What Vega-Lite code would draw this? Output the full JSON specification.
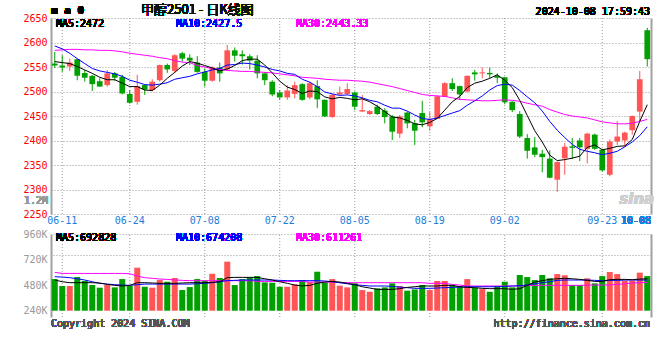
{
"$schema": "https://vega.github.io/schema/vega-lite/v6.json",
"autosize": {"type": "pad"},
"padding": {"left": 22, "top": 3, "right": 5, "bottom": 5},
"bounds": "flush",
"spacing": 20,
"background": "#ffffff",
"config": {
  "view": {"stroke": null},
  "axis": {"domainColor": "#a0a0a0", "domainWidth": 2, "gridColor": "#999999", "gridDash": [1, 2], "gridWidth": 1, "labelFont": "DejaVu Sans Mono", "labelFontSize": 10, "ticks": false},
  "text": {"font": "DejaVu Sans Mono", "fontSize": 10, "baseline": "middle"}
},
"data": {"values": [
{"d":"06-07","o":2557,"h":2581,"l":2548,"c":2553,"v":537000,"m5":2561,"m10":2593,"m30":2584,"a5":528000,"a10":559000,"a30":600000},
{"d":"06-11","o":2553,"h":2574,"l":2540,"c":2549,"v":472000,"m5":2559,"m10":2587,"m30":2585,"a5":512000,"a10":556000,"a30":590000},
{"d":"06-12","o":2551,"h":2567,"l":2542,"c":2559,"v":472000,"m5":2557,"m10":2578,"m30":2586,"a5":503000,"a10":550000,"a30":590000},
{"d":"06-13","o":2566,"h":2567,"l":2523,"c":2532,"v":556000,"m5":2551,"m10":2567,"m30":2586,"a5":503000,"a10":540000,"a30":590000},
{"d":"06-14","o":2538,"h":2544,"l":2520,"c":2528,"v":519000,"m5":2544,"m10":2557,"m30":2585,"a5":503000,"a10":528000,"a30":590000},
{"d":"06-17","o":2532,"h":2534,"l":2501,"c":2515,"v":481000,"m5":2537,"m10":2547,"m30":2585,"a5":503000,"a10":512000,"a30":590000},
{"d":"06-18","o":2521,"h":2527,"l":2510,"c":2510,"v":456000,"m5":2529,"m10":2542,"m30":2584,"a5":500000,"a10":497000,"a30":590000},
{"d":"06-19","o":2513,"h":2544,"l":2510,"c":2537,"v":481000,"m5":2524,"m10":2539,"m30":2584,"a5":487000,"a10":490000,"a30":590000},
{"d":"06-20","o":2537,"h":2540,"l":2522,"c":2528,"v":459000,"m5":2524,"m10":2536,"m30":2583,"a5":478000,"a10":484000,"a30":590000},
{"d":"06-21","o":2530,"h":2534,"l":2494,"c":2496,"v":537000,"m5":2517,"m10":2531,"m30":2581,"a5":472000,"a10":481000,"a30":590000},
{"d":"06-24","o":2495,"h":2503,"l":2475,"c":2477,"v":472000,"m5":2510,"m10":2523,"m30":2578,"a5":478000,"a10":478000,"a30":587000},
{"d":"06-25","o":2479,"h":2534,"l":2473,"c":2511,"v":644000,"m5":2510,"m10":2519,"m30":2576,"a5":503000,"a10":484000,"a30":565000},
{"d":"06-26","o":2513,"h":2515,"l":2493,"c":2504,"v":465000,"m5":2503,"m10":2514,"m30":2574,"a5":503000,"a10":490000,"a30":550000},
{"d":"06-27","o":2503,"h":2525,"l":2500,"c":2520,"v":456000,"m5":2502,"m10":2513,"m30":2572,"a5":500000,"a10":490000,"a30":544000},
{"d":"06-28","o":2523,"h":2555,"l":2520,"c":2554,"v":528000,"m5":2513,"m10":2515,"m30":2569,"a5":497000,"a10":490000,"a30":537000},
{"d":"07-01","o":2554,"h":2557,"l":2538,"c":2545,"v":512000,"m5":2527,"m10":2518,"m30":2567,"a5":497000,"a10":490000,"a30":534000},
{"d":"07-02","o":2542,"h":2576,"l":2538,"c":2574,"v":547000,"m5":2539,"m10":2525,"m30":2563,"a5":497000,"a10":490000,"a30":528000},
{"d":"07-03","o":2578,"h":2581,"l":2561,"c":2567,"v":434000,"m5":2552,"m10":2528,"m30":2560,"a5":500000,"a10":490000,"a30":525000},
{"d":"07-04","o":2569,"h":2576,"l":2554,"c":2563,"v":462000,"m5":2561,"m10":2531,"m30":2559,"a5":503000,"a10":490000,"a30":522000},
{"d":"07-05","o":2559,"h":2572,"l":2538,"c":2540,"v":537000,"m5":2558,"m10":2536,"m30":2553,"a5":503000,"a10":493000,"a30":522000},
{"d":"07-08","o":2540,"h":2547,"l":2510,"c":2522,"v":522000,"m5":2553,"m10":2540,"m30":2550,"a5":503000,"a10":497000,"a30":522000},
{"d":"07-09","o":2522,"h":2551,"l":2520,"c":2549,"v":587000,"m5":2548,"m10":2544,"m30":2547,"a5":506000,"a10":503000,"a30":522000},
{"d":"07-10","o":2549,"h":2559,"l":2520,"c":2537,"v":547000,"m5":2542,"m10":2547,"m30":2545,"a5":512000,"a10":512000,"a30":522000},
{"d":"07-11","o":2545,"h":2595,"l":2544,"c":2584,"v":700000,"m5":2546,"m10":2554,"m30":2543,"a5":550000,"a10":522000,"a30":522000},
{"d":"07-12","o":2584,"h":2590,"l":2561,"c":2573,"v":481000,"m5":2553,"m10":2555,"m30":2542,"a5":553000,"a10":525000,"a30":522000},
{"d":"07-15","o":2576,"h":2584,"l":2555,"c":2572,"v":537000,"m5":2563,"m10":2558,"m30":2541,"a5":553000,"a10":528000,"a30":522000},
{"d":"07-16","o":2572,"h":2576,"l":2545,"c":2563,"v":553000,"m5":2566,"m10":2557,"m30":2541,"a5":553000,"a10":528000,"a30":522000},
{"d":"07-17","o":2563,"h":2574,"l":2527,"c":2537,"v":565000,"m5":2566,"m10":2554,"m30":2540,"a5":553000,"a10":528000,"a30":515000},
{"d":"07-18","o":2537,"h":2540,"l":2513,"c":2523,"v":506000,"m5":2554,"m10":2550,"m30":2539,"a5":540000,"a10":528000,"a30":515000},
{"d":"07-19","o":2520,"h":2523,"l":2490,"c":2494,"v":503000,"m5":2538,"m10":2545,"m30":2538,"a5":528000,"a10":528000,"a30":515000},
{"d":"07-22","o":2498,"h":2503,"l":2483,"c":2488,"v":465000,"m5":2521,"m10":2542,"m30":2536,"a5":512000,"a10":525000,"a30":515000},
{"d":"07-23","o":2488,"h":2513,"l":2483,"c":2502,"v":465000,"m5":2509,"m10":2537,"m30":2534,"a5":497000,"a10":522000,"a30":515000},
{"d":"07-24","o":2495,"h":2520,"l":2486,"c":2513,"v":487000,"m5":2504,"m10":2535,"m30":2532,"a5":481000,"a10":522000,"a30":515000},
{"d":"07-25","o":2515,"h":2517,"l":2481,"c":2483,"v":528000,"m5":2496,"m10":2525,"m30":2529,"a5":472000,"a10":522000,"a30":515000},
{"d":"07-26","o":2488,"h":2520,"l":2484,"c":2517,"v":509000,"m5":2501,"m10":2519,"m30":2528,"a5":478000,"a10":522000,"a30":509000},
{"d":"07-29","o":2511,"h":2523,"l":2466,"c":2484,"v":606000,"m5":2500,"m10":2510,"m30":2527,"a5":497000,"a10":522000,"a30":509000},
{"d":"07-30","o":2483,"h":2484,"l":2448,"c":2449,"v":503000,"m5":2489,"m10":2499,"m30":2525,"a5":509000,"a10":519000,"a30":509000},
{"d":"07-31","o":2448,"h":2496,"l":2446,"c":2493,"v":537000,"m5":2485,"m10":2495,"m30":2524,"a5":515000,"a10":512000,"a30":509000},
{"d":"08-01","o":2494,"h":2510,"l":2493,"c":2498,"v":475000,"m5":2488,"m10":2492,"m30":2523,"a5":509000,"a10":503000,"a30":503000},
{"d":"08-02","o":2495,"h":2517,"l":2493,"c":2505,"v":459000,"m5":2486,"m10":2493,"m30":2523,"a5":497000,"a10":493000,"a30":503000},
{"d":"08-05","o":2498,"h":2500,"l":2462,"c":2469,"v":497000,"m5":2483,"m10":2491,"m30":2522,"a5":484000,"a10":484000,"a30":503000},
{"d":"08-06","o":2459,"h":2493,"l":2459,"c":2462,"v":434000,"m5":2485,"m10":2487,"m30":2521,"a5":465000,"a10":478000,"a30":503000},
{"d":"08-07","o":2454,"h":2462,"l":2452,"c":2460,"v":418000,"m5":2479,"m10":2482,"m30":2519,"a5":453000,"a10":472000,"a30":503000},
{"d":"08-08","o":2469,"h":2473,"l":2452,"c":2454,"v":450000,"m5":2470,"m10":2479,"m30":2516,"a5":440000,"a10":472000,"a30":503000},
{"d":"08-09","o":2461,"h":2466,"l":2435,"c":2448,"v":459000,"m5":2459,"m10":2472,"m30":2513,"a5":440000,"a10":472000,"a30":503000},
{"d":"08-12","o":2449,"h":2452,"l":2401,"c":2418,"v":497000,"m5":2448,"m10":2466,"m30":2510,"a5":440000,"a10":468000,"a30":503000},
{"d":"08-13","o":2414,"h":2452,"l":2405,"c":2449,"v":472000,"m5":2446,"m10":2466,"m30":2506,"a5":447000,"a10":462000,"a30":503000},
{"d":"08-14","o":2457,"h":2459,"l":2425,"c":2435,"v":428000,"m5":2441,"m10":2460,"m30":2502,"a5":459000,"a10":456000,"a30":503000},
{"d":"08-15","o":2435,"h":2442,"l":2391,"c":2420,"v":440000,"m5":2434,"m10":2452,"m30":2498,"a5":465000,"a10":450000,"a30":503000},
{"d":"08-16","o":2456,"h":2481,"l":2427,"c":2437,"v":481000,"m5":2432,"m10":2445,"m30":2494,"a5":472000,"a10":450000,"a30":503000},
{"d":"08-19","o":2429,"h":2458,"l":2420,"c":2444,"v":434000,"m5":2437,"m10":2443,"m30":2492,"a5":472000,"a10":450000,"a30":497000},
{"d":"08-20","o":2444,"h":2492,"l":2444,"c":2490,"v":519000,"m5":2445,"m10":2446,"m30":2491,"a5":472000,"a10":453000,"a30":497000},
{"d":"08-21","o":2489,"h":2519,"l":2489,"c":2517,"v":519000,"m5":2462,"m10":2451,"m30":2490,"a5":478000,"a10":456000,"a30":497000},
{"d":"08-22","o":2517,"h":2527,"l":2501,"c":2505,"v":481000,"m5":2479,"m10":2456,"m30":2487,"a5":478000,"a10":459000,"a30":487000},
{"d":"08-23","o":2511,"h":2512,"l":2483,"c":2494,"v":472000,"m5":2490,"m10":2461,"m30":2484,"a5":465000,"a10":462000,"a30":481000},
{"d":"08-26","o":2500,"h":2533,"l":2498,"c":2532,"v":537000,"m5":2508,"m10":2472,"m30":2483,"a5":459000,"a10":465000,"a30":472000},
{"d":"08-27","o":2539,"h":2544,"l":2522,"c":2535,"v":456000,"m5":2517,"m10":2481,"m30":2482,"a5":456000,"a10":465000,"a30":472000},
{"d":"08-28","o":2537,"h":2549,"l":2527,"c":2539,"v":443000,"m5":2521,"m10":2491,"m30":2481,"a5":450000,"a10":465000,"a30":472000},
{"d":"08-29","o":2538,"h":2549,"l":2527,"c":2535,"v":418000,"m5":2527,"m10":2503,"m30":2481,"a5":447000,"a10":465000,"a30":472000},
{"d":"08-30","o":2532,"h":2537,"l":2517,"c":2528,"v":472000,"m5":2534,"m10":2512,"m30":2482,"a5":447000,"a10":465000,"a30":472000},
{"d":"09-02","o":2529,"h":2530,"l":2474,"c":2478,"v":512000,"m5":2523,"m10":2515,"m30":2483,"a5":447000,"a10":468000,"a30":472000},
{"d":"09-03","o":2479,"h":2480,"l":2458,"c":2462,"v":459000,"m5":2508,"m10":2513,"m30":2482,"a5":440000,"a10":472000,"a30":472000},
{"d":"09-04","o":2454,"h":2460,"l":2405,"c":2408,"v":575000,"m5":2482,"m10":2502,"m30":2480,"a5":447000,"a10":475000,"a30":472000},
{"d":"09-05","o":2405,"h":2413,"l":2363,"c":2379,"v":556000,"m5":2451,"m10":2489,"m30":2476,"a5":478000,"a10":481000,"a30":478000},
{"d":"09-06","o":2386,"h":2407,"l":2366,"c":2371,"v":528000,"m5":2420,"m10":2477,"m30":2473,"a5":509000,"a10":493000,"a30":478000},
{"d":"09-09","o":2373,"h":2381,"l":2335,"c":2366,"v":575000,"m5":2397,"m10":2460,"m30":2470,"a5":522000,"a10":503000,"a30":478000},
{"d":"09-10","o":2363,"h":2380,"l":2323,"c":2324,"v":544000,"m5":2370,"m10":2439,"m30":2463,"a5":534000,"a10":512000,"a30":478000},
{"d":"09-11","o":2320,"h":2357,"l":2295,"c":2356,"v":584000,"m5":2359,"m10":2421,"m30":2458,"a5":540000,"a10":525000,"a30":478000},
{"d":"09-12","o":2364,"h":2395,"l":2330,"c":2387,"v":572000,"m5":2361,"m10":2406,"m30":2453,"a5":544000,"a10":528000,"a30":478000},
{"d":"09-13","o":2388,"h":2405,"l":2362,"c":2385,"v":481000,"m5":2364,"m10":2392,"m30":2450,"a5":540000,"a10":528000,"a30":478000},
{"d":"09-18","o":2400,"h":2405,"l":2358,"c":2386,"v":481000,"m5":2368,"m10":2382,"m30":2448,"a5":534000,"a10":528000,"a30":478000},
{"d":"09-19","o":2383,"h":2416,"l":2353,"c":2414,"v":544000,"m5":2386,"m10":2378,"m30":2446,"a5":525000,"a10":528000,"a30":481000},
{"d":"09-20","o":2412,"h":2414,"l":2381,"c":2383,"v":497000,"m5":2391,"m10":2375,"m30":2442,"a5":515000,"a10":525000,"a30":481000},
{"d":"09-23","o":2381,"h":2383,"l":2337,"c":2339,"v":565000,"m5":2381,"m10":2371,"m30":2438,"a5":515000,"a10":522000,"a30":481000},
{"d":"09-24","o":2330,"h":2402,"l":2327,"c":2398,"v":603000,"m5":2384,"m10":2374,"m30":2436,"a5":531000,"a10":525000,"a30":481000},
{"d":"09-25","o":2398,"h":2440,"l":2391,"c":2408,"v":584000,"m5":2388,"m10":2378,"m30":2434,"a5":534000,"a10":525000,"a30":487000},
{"d":"09-26","o":2400,"h":2418,"l":2388,"c":2416,"v":522000,"m5":2389,"m10":2387,"m30":2434,"a5":534000,"a10":528000,"a30":493000},
{"d":"09-27","o":2421,"h":2451,"l":2412,"c":2450,"v":522000,"m5":2402,"m10":2397,"m30":2435,"a5":531000,"a10":528000,"a30":500000},
{"d":"09-30","o":2459,"h":2542,"l":2439,"c":2525,"v":597000,"m5":2439,"m10":2410,"m30":2439,"a5":537000,"a10":528000,"a30":503000},
{"d":"10-08","o":2625,"h":2630,"l":2551,"c":2566,"v":565000,"m5":2473,"m10":2428,"m30":2443,"a5":540000,"a10":528000,"a30":506000}
]},
"vconcat": [
{
  "width": 600,
  "height": 196,
  "encoding": {
    "x": {"field": "d", "type": "ordinal", "sort": "ascending",
      "scale": {"type": "band", "paddingInner": 0, "paddingOuter": 0},
      "axis": {"title": null, "labels": false, "grid": false, "ticks": false, "domain": true}}
  },
  "layer": [
    {"transform": [{"filter": {"field": "d", "oneOf": ["06-11","06-24","07-08","07-22","08-05","08-19","09-02","09-23"]}}],
     "mark": {"type": "rule", "color": "#999999", "strokeWidth": 1, "strokeDash": [1, 2]},
     "encoding": {
       "y": {"datum": 2250, "type": "quantitative", "scale": {"domain": [2250, 2650], "nice": false, "zero": false}, "axis": null},
       "y2": {"datum": 2650}}},
    {"mark": {"type": "rule", "strokeWidth": 1},
     "encoding": {
       "y": {"field": "l", "type": "quantitative", "scale": {"domain": [2250, 2650], "nice": false, "zero": false},
             "axis": {"orient": "right", "labels": false, "grid": false, "ticks": false, "title": null}},
       "y2": {"field": "h"},
       "color": {"condition": {"test": "datum.c >= datum.o", "value": "#ff5555"}, "value": "#00a000"}}},
    {"mark": {"type": "bar", "width": {"band": 0.76}},
     "encoding": {
       "y": {"field": "o", "type": "quantitative", "scale": {"domain": [2250, 2650], "nice": false, "zero": false},
             "axis": {"orient": "left", "values": [2250,2300,2350,2400,2450,2500,2550,2600,2650], "format": "d", "labelColor": "#ff0000", "labelPadding": 4, "grid": true, "ticks": false, "title": null}},
       "y2": {"field": "c"},
       "color": {"condition": {"test": "datum.c >= datum.o", "value": "#ff5555"}, "value": "#00a000"}}},
    {"mark": {"type": "line", "color": "#ff00ff", "strokeWidth": 1},
     "encoding": {"y": {"field": "m30", "type": "quantitative", "scale": {"domain": [2250, 2650], "nice": false, "zero": false}, "axis": null}}},
    {"mark": {"type": "line", "color": "#0000ff", "strokeWidth": 1},
     "encoding": {"y": {"field": "m10", "type": "quantitative", "scale": {"domain": [2250, 2650], "nice": false, "zero": false}, "axis": null}}},
    {"mark": {"type": "line", "color": "#000000", "strokeWidth": 1},
     "encoding": {"y": {"field": "m5", "type": "quantitative", "scale": {"domain": [2250, 2650], "nice": false, "zero": false}, "axis": null}}},
    {"transform": [{"filter": {"field": "d", "oneOf": ["06-11","06-24","07-08","07-22","08-05","08-19","09-02","09-23"]}}],
     "mark": {"type": "text", "align": "center", "color": "#1a80d9"},
     "encoding": {
       "text": {"field": "d"},
       "y": {"datum": 2235, "type": "quantitative", "scale": {"domain": [2250, 2650], "nice": false, "zero": false}, "axis": null}}},
    {"mark": {"type": "text", "text": "10-08", "align": "right", "color": "#1a80d9"},
     "encoding": {"x": {"datum": "10-08", "type": "ordinal", "bandPosition": 1, "axis": null},
                  "y": {"datum": 2235, "type": "quantitative", "scale": {"domain": [2250, 2650], "nice": false, "zero": false}, "axis": null}}},
    {"mark": {"type": "text", "text": "m a 0", "align": "left", "fontWeight": "bold", "fontSize": 11, "color": "#000000"},
     "encoding": {"x": {"datum": "06-07", "type": "ordinal", "bandPosition": 0, "axis": null},
                  "y": {"datum": 2664, "type": "quantitative", "scale": {"domain": [2250, 2650], "nice": false, "zero": false}, "axis": null}}},
    {"mark": {"type": "text", "text": "甲醇2501 - 日K线图", "align": "left", "font": "Noto Sans CJK SC", "fontSize": 13, "color": "#111111"},
     "encoding": {"x": {"datum": "06-26", "type": "ordinal", "bandPosition": 0, "axis": null},
                  "y": {"datum": 2667, "type": "quantitative", "scale": {"domain": [2250, 2650], "nice": false, "zero": false}, "axis": null}}},
    {"mark": {"type": "text", "text": "2024-10-08 17:59:43", "align": "right", "dx": -1, "color": "#000000"},
     "encoding": {"x": {"datum": "10-08", "type": "ordinal", "bandPosition": 1, "axis": null},
                  "y": {"datum": 2662, "type": "quantitative", "scale": {"domain": [2250, 2650], "nice": false, "zero": false}, "axis": null}}},
    {"mark": {"type": "text", "text": "MA5:2472", "align": "left", "dx": 5, "color": "#000000"},
     "encoding": {"x": {"datum": "06-07", "type": "ordinal", "bandPosition": 0, "axis": null},
                  "y": {"datum": 2638, "type": "quantitative", "scale": {"domain": [2250, 2650], "nice": false, "zero": false}, "axis": null}}},
    {"mark": {"type": "text", "text": "MA10:2427.5", "align": "left", "dx": 5, "color": "#0000ff"},
     "encoding": {"x": {"datum": "07-02", "type": "ordinal", "bandPosition": 0, "axis": null},
                  "y": {"datum": 2638, "type": "quantitative", "scale": {"domain": [2250, 2650], "nice": false, "zero": false}, "axis": null}}},
    {"mark": {"type": "text", "text": "MA30:2443.33", "align": "left", "dx": 5, "color": "#ff00ff"},
     "encoding": {"x": {"datum": "07-24", "type": "ordinal", "bandPosition": 0, "axis": null},
                  "y": {"datum": 2638, "type": "quantitative", "scale": {"domain": [2250, 2650], "nice": false, "zero": false}, "axis": null}}},
    {"mark": {"type": "text", "text": "1.2M", "align": "right", "dx": -3, "color": "#999999"},
     "encoding": {"x": {"datum": "06-07", "type": "ordinal", "bandPosition": 0, "axis": null},
                  "y": {"datum": 2277, "type": "quantitative", "scale": {"domain": [2250, 2650], "nice": false, "zero": false}, "axis": null}}},
    {"mark": {"type": "text", "text": "sina", "align": "center", "dx": -3, "font": "DejaVu Sans", "fontSize": 15, "fontWeight": "bold", "fontStyle": "italic", "color": "#cfcfcf"},
     "encoding": {"x": {"datum": "09-30", "type": "ordinal", "bandPosition": 0.5, "axis": null},
                  "y": {"datum": 2280, "type": "quantitative", "scale": {"domain": [2250, 2650], "nice": false, "zero": false}, "axis": null}}}
  ],
  "resolve": {"axis": {"y": "independent"}}
},
{
  "width": 600,
  "height": 83,
  "encoding": {
    "x": {"field": "d", "type": "ordinal", "sort": "ascending",
      "scale": {"type": "band", "paddingInner": 0, "paddingOuter": 0},
      "axis": {"title": null, "labels": false, "grid": false, "ticks": false, "domain": true}}
  },
  "layer": [
    {"transform": [{"filter": {"field": "d", "oneOf": ["06-11","06-24","07-08","07-22","08-05","08-19","09-02","09-23"]}}],
     "mark": {"type": "rule", "color": "#999999", "strokeWidth": 1, "strokeDash": [1, 2]},
     "encoding": {
       "y": {"datum": 181000, "type": "quantitative", "scale": {"domain": [181000, 960000], "nice": false, "zero": false}, "axis": null},
       "y2": {"datum": 960000}}},
    {"mark": {"type": "bar", "width": {"band": 0.8}},
     "encoding": {
       "y": {"field": "v", "type": "quantitative", "scale": {"domain": [181000, 960000], "nice": false, "zero": false},
             "axis": {"orient": "left", "values": [240000, 480000, 720000, 960000], "labelExpr": "format(datum.value / 1000, 'd') + 'K'", "labelColor": "#999999", "labelPadding": 4, "grid": false, "ticks": false, "title": null}},
       "y2": {"datum": 240000},
       "color": {"condition": {"test": "datum.c >= datum.o", "value": "#ff5555"}, "value": "#00a000"}}},
    {"mark": {"type": "line", "color": "#ff00ff", "strokeWidth": 1},
     "encoding": {"y": {"field": "a30", "type": "quantitative", "scale": {"domain": [181000, 960000], "nice": false, "zero": false},
        "axis": {"orient": "right", "values": [387000, 763000, 960000], "labels": false, "grid": true, "ticks": false, "title": null}}}},
    {"mark": {"type": "line", "color": "#0000ff", "strokeWidth": 1},
     "encoding": {"y": {"field": "a10", "type": "quantitative", "scale": {"domain": [181000, 960000], "nice": false, "zero": false}, "axis": null}}},
    {"mark": {"type": "line", "color": "#000000", "strokeWidth": 1},
     "encoding": {"y": {"field": "a5", "type": "quantitative", "scale": {"domain": [181000, 960000], "nice": false, "zero": false}, "axis": null}}},
    {"mark": {"type": "text", "text": "MA5:692828", "align": "left", "dx": 5, "color": "#000000"},
     "encoding": {"x": {"datum": "06-07", "type": "ordinal", "bandPosition": 0, "axis": null},
                  "y": {"datum": 918000, "type": "quantitative", "scale": {"domain": [181000, 960000], "nice": false, "zero": false}, "axis": null}}},
    {"mark": {"type": "text", "text": "MA10:674208", "align": "left", "dx": 5, "color": "#0000ff"},
     "encoding": {"x": {"datum": "07-02", "type": "ordinal", "bandPosition": 0, "axis": null},
                  "y": {"datum": 918000, "type": "quantitative", "scale": {"domain": [181000, 960000], "nice": false, "zero": false}, "axis": null}}},
    {"mark": {"type": "text", "text": "MA30:611261", "align": "left", "dx": 5, "color": "#ff00ff"},
     "encoding": {"x": {"datum": "07-24", "type": "ordinal", "bandPosition": 0, "axis": null},
                  "y": {"datum": 918000, "type": "quantitative", "scale": {"domain": [181000, 960000], "nice": false, "zero": false}, "axis": null}}},
    {"mark": {"type": "text", "text": "Copyright 2024 SINA.COM", "align": "left", "color": "#555555"},
     "encoding": {"x": {"datum": "06-07", "type": "ordinal", "bandPosition": 0, "axis": null},
                  "y": {"datum": 115000, "type": "quantitative", "scale": {"domain": [181000, 960000], "nice": false, "zero": false}, "axis": null}}},
    {"mark": {"type": "text", "text": "http://finance.sina.com.cn", "align": "right", "dx": -1, "color": "#555555"},
     "encoding": {"x": {"datum": "10-08", "type": "ordinal", "bandPosition": 1, "axis": null},
                  "y": {"datum": 115000, "type": "quantitative", "scale": {"domain": [181000, 960000], "nice": false, "zero": false}, "axis": null}}}
  ],
  "resolve": {"axis": {"y": "independent"}}
}
]
}
